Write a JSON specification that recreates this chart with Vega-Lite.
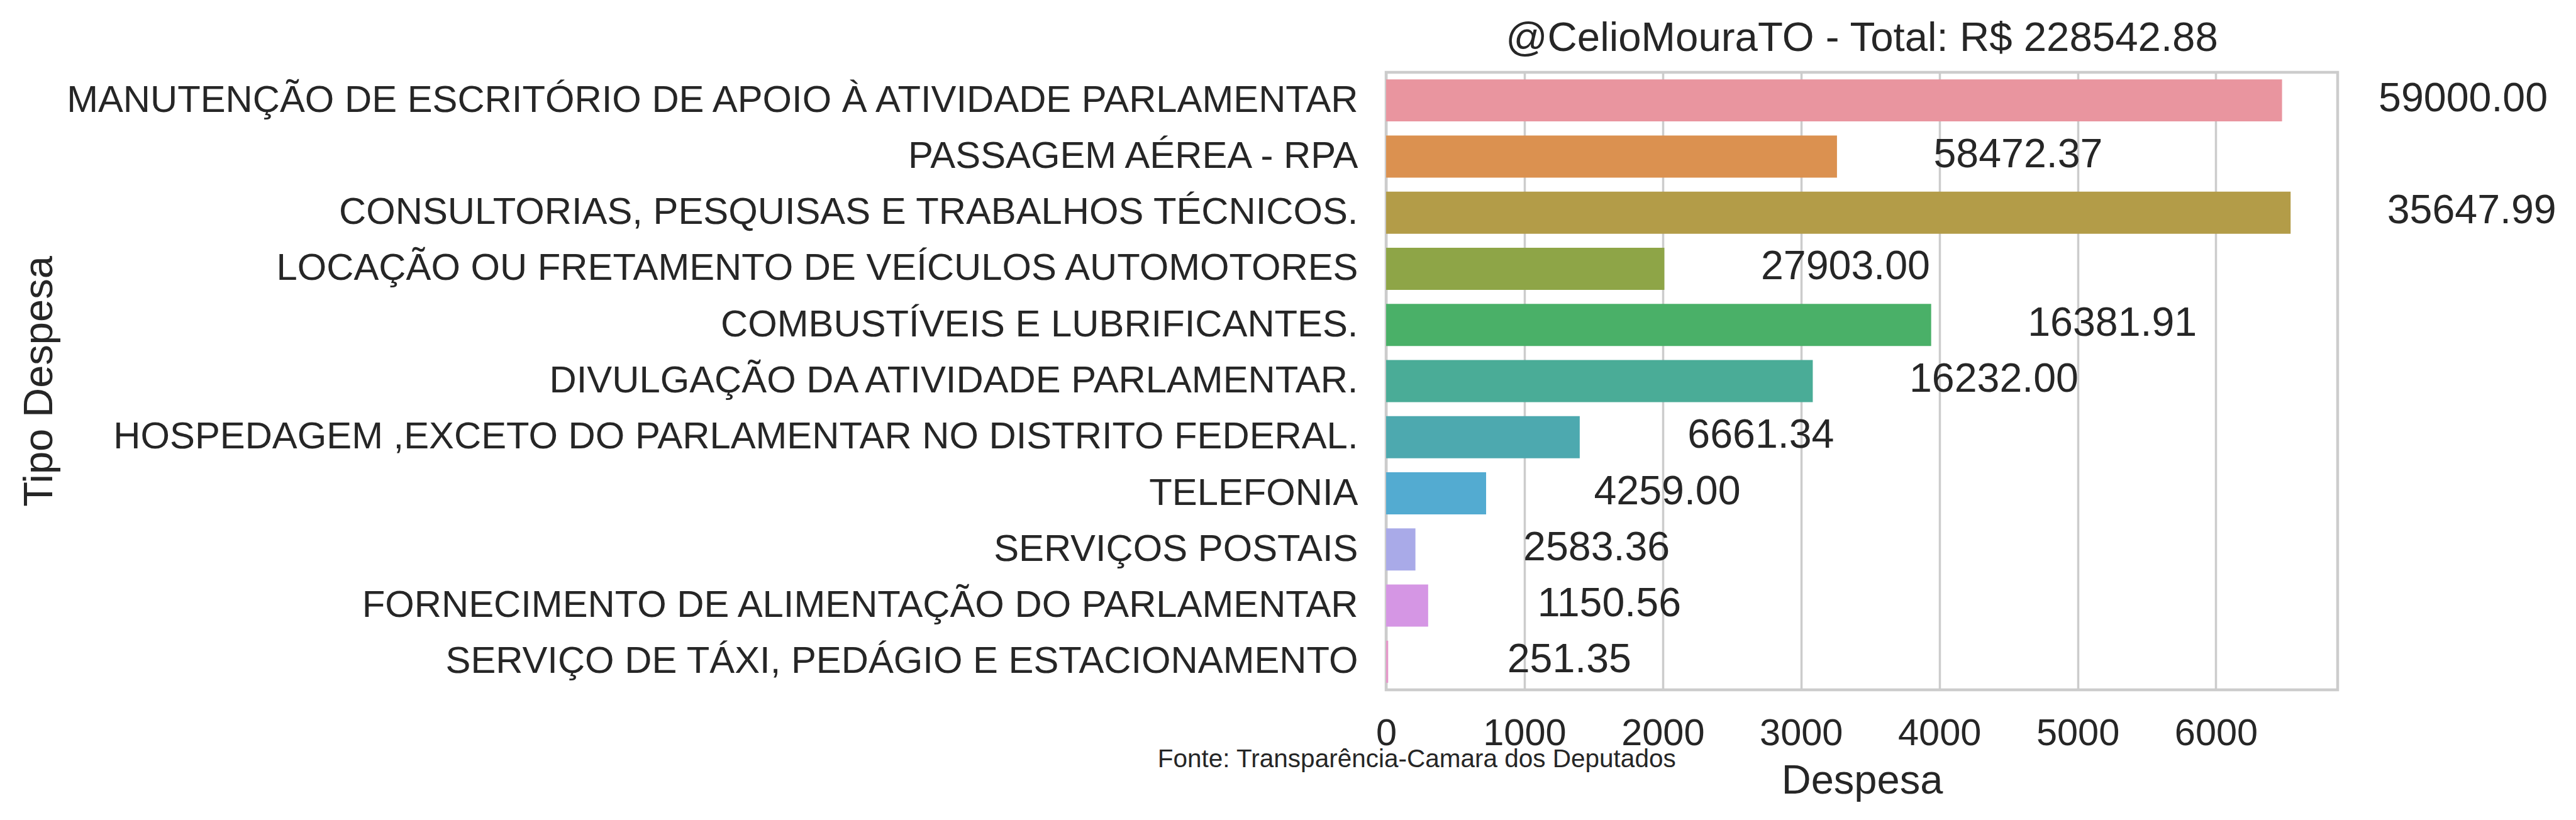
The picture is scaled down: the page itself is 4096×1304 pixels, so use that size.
{
  "$schema": "https://vega.github.io/schema/vega-lite/v6.json",
  "background": "white",
  "padding": {"left": 27, "top": 26, "right": 0, "bottom": 0},
  "config": {
    "font": "Liberation Sans",
    "view": {"stroke": "#cccccc", "strokeWidth": 4.5},
    "text": {"font": "Liberation Sans"}
  },
  "title": {
    "text": "Fonte: Transparência-Camara dos Deputados",
    "orient": "bottom",
    "anchor": "start",
    "frame": "bounds",
    "fontSize": 40.5,
    "fontWeight": "normal",
    "font": "Liberation Sans",
    "color": "#262626",
    "baseline": "alphabetic",
    "offset": 0,
    "dx": 1813,
    "dy": -57
  },
  "vconcat": [
    {
      "width": 1513,
      "height": 982,
      "title": {
        "text": "@CelioMouraTO - Total: R$ 228542.88",
        "fontSize": 65.4,
        "fontWeight": "normal",
        "font": "Liberation Sans",
        "color": "#262626",
        "anchor": "middle",
        "frame": "group",
        "baseline": "alphabetic",
        "offset": -31.5
      },
      "data": {
        "values": [
          {"tipo": "MANUTENÇÃO DE ESCRITÓRIO DE APOIO À ATIVIDADE PARLAMENTAR", "media": 6478, "total": 59000.00},
          {"tipo": "PASSAGEM AÉREA - RPA", "media": 3260, "total": 58472.37},
          {"tipo": "CONSULTORIAS, PESQUISAS E TRABALHOS TÉCNICOS.", "media": 6540, "total": 35647.99},
          {"tipo": "LOCAÇÃO OU FRETAMENTO DE VEÍCULOS AUTOMOTORES", "media": 2012, "total": 27903.00},
          {"tipo": "COMBUSTÍVEIS E LUBRIFICANTES.", "media": 3941, "total": 16381.91},
          {"tipo": "DIVULGAÇÃO DA ATIVIDADE PARLAMENTAR.", "media": 3085, "total": 16232.00},
          {"tipo": "HOSPEDAGEM ,EXCETO DO PARLAMENTAR NO DISTRITO FEDERAL.", "media": 1400, "total": 6661.34},
          {"tipo": "TELEFONIA", "media": 723, "total": 4259.00},
          {"tipo": "SERVIÇOS POSTAIS", "media": 212, "total": 2583.36},
          {"tipo": "FORNECIMENTO DE ALIMENTAÇÃO DO PARLAMENTAR", "media": 304, "total": 1150.56},
          {"tipo": "SERVIÇO DE TÁXI, PEDÁGIO E ESTACIONAMENTO", "media": 15, "total": 251.35}
        ]
      },
      "encoding": {
        "y": {
          "field": "tipo",
          "type": "nominal",
          "sort": null,
          "scale": {"paddingInner": 0.25, "paddingOuter": 0.125},
          "axis": {
            "title": "Tipo Despesa",
            "labelFontSize": 59.8,
            "labelColor": "#262626",
            "labelFont": "Liberation Sans",
            "labelPadding": 45,
            "labelLimit": 3000,
            "ticks": false,
            "tickSize": 0,
            "domain": false,
            "grid": false,
            "titleFontSize": 65,
            "titleFont": "Liberation Sans",
            "titleFontWeight": "normal",
            "titleColor": "#262626",
            "titleAngle": -90,
            "titleAlign": "center",
            "titleBaseline": "alphabetic",
            "titleX": -2122,
            "titleY": 491
          }
        },
        "x": {
          "field": "media",
          "type": "quantitative",
          "scale": {"domain": [0, 6880], "nice": false, "zero": true},
          "axis": {
            "title": "Despesa",
            "values": [0, 1000, 2000, 3000, 4000, 5000, 6000],
            "format": "d",
            "grid": true,
            "gridColor": "#cccccc",
            "gridWidth": 3.5,
            "domain": false,
            "ticks": false,
            "tickSize": 0,
            "labelPadding": 40,
            "labelFlush": false,
            "labelOverlap": false,
            "labelFontSize": 59.5,
            "labelColor": "#262626",
            "labelFont": "Liberation Sans",
            "titleFontSize": 65,
            "titleFont": "Liberation Sans",
            "titleFontWeight": "normal",
            "titleColor": "#262626",
            "titleBaseline": "alphabetic",
            "titleY": 164.3
          }
        }
      },
      "layer": [
        {
          "mark": {"type": "bar"},
          "encoding": {
            "color": {
              "field": "tipo",
              "type": "nominal",
              "legend": null,
              "scale": {
                "domain": [
                  "MANUTENÇÃO DE ESCRITÓRIO DE APOIO À ATIVIDADE PARLAMENTAR",
                  "PASSAGEM AÉREA - RPA",
                  "CONSULTORIAS, PESQUISAS E TRABALHOS TÉCNICOS.",
                  "LOCAÇÃO OU FRETAMENTO DE VEÍCULOS AUTOMOTORES",
                  "COMBUSTÍVEIS E LUBRIFICANTES.",
                  "DIVULGAÇÃO DA ATIVIDADE PARLAMENTAR.",
                  "HOSPEDAGEM ,EXCETO DO PARLAMENTAR NO DISTRITO FEDERAL.",
                  "TELEFONIA",
                  "SERVIÇOS POSTAIS",
                  "FORNECIMENTO DE ALIMENTAÇÃO DO PARLAMENTAR",
                  "SERVIÇO DE TÁXI, PEDÁGIO E ESTACIONAMENTO"
                ],
                "range": ["#E9959F", "#DB9150", "#B39C48", "#8EA547", "#4AB068", "#4AAC97", "#4DA9AF", "#53ABD1", "#A9AAE8", "#D596E4", "#E597C9"]
              }
            }
          }
        },
        {
          "mark": {"type": "text", "dx": 288, "dy": -2, "align": "center", "baseline": "middle", "fontSize": 64.5, "color": "#262626", "font": "Liberation Sans"},
          "encoding": {
            "text": {"field": "total", "type": "quantitative", "format": ".2f"}
          }
        }
      ]
    }
  ]
}
